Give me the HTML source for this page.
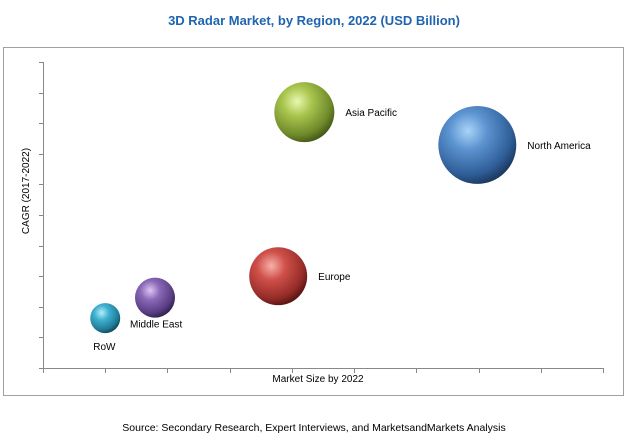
<!DOCTYPE html>
<html><head><meta charset="utf-8"><style>
body{margin:0;background:#fff;width:629px;height:436px;overflow:hidden;font-family:"Liberation Sans",sans-serif}
</style></head><body>
<svg width="629" height="436">
<defs>
<radialGradient id="gBlue" cx="0.38" cy="0.32" r="0.7"><stop offset="0" stop-color="#a9d4f7"/><stop offset="0.35" stop-color="#5b93d0"/><stop offset="0.8" stop-color="#2f5e98"/><stop offset="1" stop-color="#1c3a62"/></radialGradient>
<radialGradient id="gGreen" cx="0.38" cy="0.32" r="0.7"><stop offset="0" stop-color="#eaf7b0"/><stop offset="0.35" stop-color="#a9c54e"/><stop offset="0.8" stop-color="#6f8a2a"/><stop offset="1" stop-color="#465a18"/></radialGradient>
<radialGradient id="gRed" cx="0.38" cy="0.32" r="0.7"><stop offset="0" stop-color="#f7b0ab"/><stop offset="0.35" stop-color="#d0504a"/><stop offset="0.8" stop-color="#962c28"/><stop offset="1" stop-color="#5a1614"/></radialGradient>
<radialGradient id="gPurple" cx="0.38" cy="0.32" r="0.7"><stop offset="0" stop-color="#dcc6f2"/><stop offset="0.35" stop-color="#8a68b8"/><stop offset="0.8" stop-color="#583d82"/><stop offset="1" stop-color="#34224f"/></radialGradient>
<radialGradient id="gCyan" cx="0.38" cy="0.32" r="0.7"><stop offset="0" stop-color="#b6eef9"/><stop offset="0.35" stop-color="#3fb1d0"/><stop offset="0.8" stop-color="#207c98"/><stop offset="1" stop-color="#114a5c"/></radialGradient>
</defs>
<text x="314" y="25" text-anchor="middle" font-size="13" font-weight="bold" fill="#1f64b0">3D Radar Market, by Region, 2022 (USD Billion)</text>
<rect x="3.5" y="47.5" width="620" height="348" fill="none" stroke="#a0a0a0"/>
<g id="axes" stroke="#888" stroke-width="1"></g>
<g id="bubbles"></g>
<text x="318" y="382" text-anchor="middle" font-size="10" fill="#000">Market Size by 2022</text>
<text transform="translate(29,191) rotate(-90)" text-anchor="middle" font-size="10" fill="#000">CAGR (2017-2022)</text>
<text x="314" y="431" text-anchor="middle" font-size="10.5" fill="#000">Source: Secondary Research, Expert Interviews, and MarketsandMarkets Analysis</text>
</svg>
<script>
const regions=["RoW","Middle East","Europe","Asia Pacific","North America"];
const marketSize=[1.0,1.8,3.78,4.2,6.98];
const cagr=[1.63,2.3,3.0,8.36,7.29];
const bubbleSize=[2.25,4.0,8.4,9.0,15.2];
const gradients=["gCyan","gPurple","gRed","gGreen","gBlue"];
const X0=43,X1=603,XMAX=9,Y0=368,Y1=62,YMAX=10;
const xs=v=>X0+(X1-X0)*v/XMAX, ys=v=>Y0-(Y0-Y1)*v/YMAX, rs=s=>10*Math.sqrt(s);
const NS="http://www.w3.org/2000/svg";
const ax=document.getElementById('axes');
function ln(x1,y1,x2,y2,name){const l=document.createElementNS(NS,'line');l.setAttribute('x1',x1);l.setAttribute('y1',y1);l.setAttribute('x2',x2);l.setAttribute('y2',y2);


ax.appendChild(l);}
ln(X0+.5,Y1,X0+.5,Y0,'y-axis-line');ln(X0,Y0+.5,X1,Y0+.5,'x-axis-line');
for(let i=0;i<=YMAX;i++){const y=Math.round(ys(i))+.5;ln(X0-4,y,X0,y,'y-tick');}
for(let i=0;i<=XMAX;i++){const x=Math.round(xs(i))+.5;ln(x,Y0,x,Y0+5,'x-tick');}
const bg=document.getElementById('bubbles');
const labelPos=[[-12,29,'start'],[-25,28,'start'],[1,1,'start'],[1,1,'start'],[1,1,'start']];
regions.forEach((r,i)=>{const cx=xs(marketSize[i]),cy=ys(cagr[i]),rad=rs(bubbleSize[i]);
const c=document.createElementNS(NS,'circle');c.setAttribute('cx',cx);c.setAttribute('cy',cy);c.setAttribute('r',rad);c.setAttribute('fill','url(#'+gradients[i]+')');


bg.appendChild(c);
const t=document.createElementNS(NS,'text');
let tx,ty;
if(i===0){tx=cx-12;ty=cy+32;}else if(i===1){tx=cx-25;ty=cy+30;}else{tx=cx+rad+11;ty=cy+4;}
t.setAttribute('x',tx);t.setAttribute('y',ty);t.setAttribute('font-size','10');t.textContent=r;


bg.appendChild(t);});
</script>
</body></html>
